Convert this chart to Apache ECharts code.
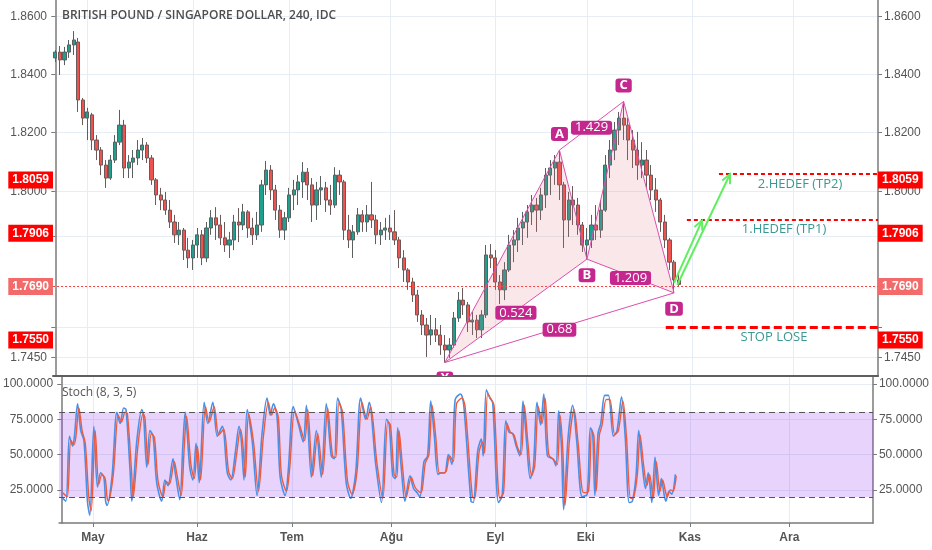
<!DOCTYPE html>
<html><head><meta charset="utf-8">
<script src="https://cdn.jsdelivr.net/npm/echarts@6/dist/echarts.min.js"></script>
<style>html,body{margin:0;padding:0;background:#fff}#c{width:932px;height:550px}</style>
</head><body><div id="c"></div>
<script>
// ---------- data ----------
const chartTitle = 'BRITISH POUND / SINGAPORE DOLLAR, 240, IDC';
const stochTitle = 'Stoch (8, 3, 5)';
const firstBarDate = '2018-04-20';           // bar index 0 (weekday bars)
const barCount = 180;                         // visible weekday slots
const monthLabels = ['May', 'Haz', 'Tem', 'Ağu', 'Eyl', 'Eki', 'Kas', 'Ara'];
const monthStartIndex = [7, 30, 51, 73, 96, 116, 139, 161];

const open = [1.8457,1.8477,1.8450,1.8477,1.8502,1.8512,1.8312,1.8250,1.8261,1.8175,1.8141,1.8090,1.8046,1.8107,1.8168,1.8226,1.8080,1.8100,1.8114,1.8141,1.8158,1.8114,1.8040,1.7989,1.7972,1.7938,1.7898,1.7855,1.7871,1.7804,1.7778,1.7821,1.7855,1.7778,1.7878,1.7912,1.7888,1.7845,1.7821,1.7838,1.7898,1.7888,1.7932,1.7878,1.7855,1.7888,1.8023,1.8073,1.8006,1.7938,1.7871,1.7912,1.7989,1.8006,1.8033,1.8066,1.8023,1.7955,1.8006,1.8013,1.7972,1.7955,1.8056,1.8033,1.7871,1.7838,1.7865,1.7922,1.7898,1.7922,1.7905,1.7855,1.7871,1.7878,1.7865,1.7838,1.7778,1.7738,1.7698,1.7655,1.7589,1.7556,1.7523,1.7540,1.7523,1.7490,1.7474,1.7490,1.7579,1.7638,1.7622,1.7566,1.7572,1.7540,1.7589,1.7788,1.7778,1.7698,1.7672,1.7738,1.7821,1.7838,1.7878,1.7898,1.7932,1.7955,1.7938,1.7989,1.8056,1.8080,1.8100,1.8023,1.7905,1.7972,1.7955,1.7888,1.7821,1.7838,1.7888,1.7871,1.7938,1.8090,1.8141,1.8209,1.8250,1.8226,1.8175,1.8141,1.8090,1.8107,1.8056,1.8006,1.7972,1.7898,1.7838,1.7764,1.7705];
const high = [1.8484,1.8498,1.8495,1.8519,1.8550,1.8526,1.8319,1.8285,1.8268,1.8192,1.8151,1.8107,1.8124,1.8192,1.8278,1.8244,1.8124,1.8141,1.8175,1.8182,1.8168,1.8124,1.8046,1.8013,1.7999,1.7972,1.7922,1.7898,1.7878,1.7845,1.7838,1.7878,1.7871,1.7898,1.7938,1.7948,1.7922,1.7898,1.7865,1.7922,1.7945,1.7959,1.7938,1.7912,1.7932,1.8040,1.8104,1.8090,1.8023,1.7955,1.7932,1.8013,1.8040,1.8056,1.8100,1.8080,1.8046,1.8033,1.8053,1.8033,1.8023,1.8083,1.8073,1.8040,1.7922,1.7888,1.7945,1.7938,1.7955,1.8033,1.7922,1.7898,1.7912,1.7922,1.7938,1.7848,1.7804,1.7744,1.7712,1.7672,1.7605,1.7579,1.7589,1.7579,1.7556,1.7523,1.7513,1.7599,1.7665,1.7678,1.7632,1.7599,1.7589,1.7605,1.7821,1.7824,1.7804,1.7721,1.7764,1.7855,1.7871,1.7912,1.7932,1.7955,1.7989,1.7979,1.8013,1.8080,1.8107,1.8124,1.8141,1.8033,1.7999,1.8019,1.7979,1.7898,1.7878,1.7922,1.7955,1.7972,1.8124,1.8175,1.8237,1.8271,1.8307,1.8250,1.8209,1.8203,1.8168,1.8141,1.8090,1.8046,1.7979,1.7922,1.7845,1.7771,1.7728];
const low = [1.8443,1.8398,1.8432,1.8457,1.8467,1.8271,1.8226,1.8175,1.8141,1.8107,1.8056,1.8013,1.8040,1.8097,1.8158,1.8046,1.8046,1.8046,1.8090,1.8107,1.8097,1.8023,1.7955,1.7938,1.7922,1.7878,1.7828,1.7821,1.7771,1.7744,1.7738,1.7778,1.7754,1.7764,1.7855,1.7838,1.7821,1.7798,1.7778,1.7804,1.7831,1.7871,1.7845,1.7821,1.7838,1.7865,1.7989,1.7972,1.7905,1.7845,1.7838,1.7898,1.7938,1.7955,1.7979,1.7972,1.7898,1.7905,1.7955,1.7932,1.7922,1.7945,1.7989,1.7838,1.7811,1.7778,1.7855,1.7865,1.7865,1.7878,1.7824,1.7821,1.7838,1.7838,1.7821,1.7744,1.7698,1.7672,1.7632,1.7566,1.7523,1.7451,1.7490,1.7500,1.7458,1.7433,1.7448,1.7481,1.7566,1.7589,1.7533,1.7523,1.7513,1.7513,1.7579,1.7744,1.7672,1.7625,1.7638,1.7731,1.7764,1.7798,1.7821,1.7845,1.7888,1.7865,1.7905,1.7945,1.7989,1.8023,1.7972,1.7811,1.7848,1.7888,1.7855,1.7798,1.7774,1.7811,1.7838,1.7845,1.7932,1.8046,1.8107,1.8158,1.8175,1.8107,1.8080,1.8040,1.8046,1.8013,1.7972,1.7932,1.7865,1.7811,1.7738,1.7662,1.7682];
const close = [1.8477,1.8450,1.8477,1.8502,1.8519,1.8312,1.8250,1.8271,1.8175,1.8141,1.8090,1.8046,1.8107,1.8168,1.8226,1.8080,1.8100,1.8114,1.8141,1.8158,1.8114,1.8040,1.7989,1.7972,1.7938,1.7898,1.7855,1.7871,1.7804,1.7778,1.7821,1.7855,1.7778,1.7878,1.7912,1.7888,1.7845,1.7821,1.7838,1.7898,1.7888,1.7932,1.7878,1.7855,1.7888,1.8023,1.8073,1.8006,1.7938,1.7871,1.7912,1.7989,1.8006,1.8033,1.8066,1.8023,1.7955,1.8006,1.8013,1.7972,1.7955,1.8056,1.8033,1.7871,1.7838,1.7865,1.7922,1.7898,1.7922,1.7905,1.7855,1.7871,1.7878,1.7865,1.7838,1.7778,1.7738,1.7698,1.7655,1.7589,1.7556,1.7523,1.7540,1.7523,1.7490,1.7474,1.7490,1.7579,1.7638,1.7622,1.7566,1.7572,1.7540,1.7589,1.7788,1.7778,1.7698,1.7672,1.7738,1.7821,1.7838,1.7878,1.7898,1.7932,1.7955,1.7938,1.7989,1.8056,1.8080,1.8100,1.8023,1.7905,1.7972,1.7955,1.7888,1.7821,1.7838,1.7888,1.7871,1.7938,1.8090,1.8141,1.8209,1.8250,1.8226,1.8175,1.8141,1.8090,1.8107,1.8056,1.8006,1.7972,1.7898,1.7838,1.7764,1.7705,1.7690];

const priceTicks = [1.86, 1.84, 1.82, 1.80, 1.785, 1.755, 1.745];
const priceTickLabels = [1.86, 1.84, 1.82, 1.80, 1.785, 1.745];
const priceRange = [1.7389, 1.86583];

const levelNames = ['TP2', 'TP1', 'LAST', 'STOP'];
const levelPrices = [1.8059, 1.7906, 1.7690, 1.7550];
const levelStartIndex = [144.8, 137.8, -0.5, 133.2];
const levelTexts = ['2.HEDEF (TP2)', '1.HEDEF (TP1)', '', 'STOP LOSE'];
const levelTextIndex = [162.5, 159.0, 0, 156.8];

const patternNames = ['X', 'A', 'B', 'C', 'D'];
const patternIndex = [85, 110, 116, 124, 135];
const patternPrice = [1.7433, 1.8141, 1.7774, 1.8307, 1.7662];
const ratioLabels = ['0.524', '1.429', '1.209', '0.68'];
const ratioLegs = [[0, 2], [1, 3], [2, 4], [0, 4]];

const arrowFrom = [[135.0, 1.7695], [135.7, 1.7688]];
const arrowTo = [[141.1, 1.7903], [147.2, 1.8059]];

const stochTicks = [25, 50, 75, 100];
const stochBand = [20, 80];
const stochRange = [1.5, 105];
const stochK = [[0,20],[1,17],[1.8,63],[2.5,56],[2.9,63],[3.6,86],[4.3,67],[5.0,60],[5.8,16],[6.3,7],[7.2,70],[8.0,27],[8.7,37],[9.4,34],[9.8,17],[10.1,14],[11.2,34],[12.3,80],[13.0,72],[13.8,83],[14.3,82],[15.2,39],[15.6,17],[16.7,60],[17.8,82],[18.2,77],[18.9,41],[19.6,67],[20.3,63],[21.1,30],[22.2,17],[22.9,32],[23.6,28],[24.7,47],[25.2,37],[26.2,18],[26.9,58],[27.4,80],[28.4,41],[29.1,32],[29.8,58],[30.5,30],[31.6,87],[32.4,72],[33.5,87],[34.5,63],[35.6,70],[36.7,37],[37.5,32],[38.5,52],[39.3,70],[39.8,60],[40.4,32],[41.1,82],[42.2,60],[43.3,21],[44.4,65],[45.5,90],[46.2,78],[46.9,86],[47.7,77],[48.4,34],[49.5,21],[50.2,39],[51.3,84],[52.4,72],[53.5,59],[54.2,85],[55.3,34],[56.4,67],[57.5,34],[58.6,86],[59.7,49],[60.4,47],[61.1,90],[61.9,82],[63.0,30],[64.0,19],[65.1,37],[66.2,90],[67.3,75],[68.1,87],[69.5,44],[70.8,16],[71.9,75],[72.5,72],[73.3,35],[73.9,33],[74.4,69],[75.2,40],[76.0,17],[77.1,35],[77.9,26],[78.7,23],[79.3,20],[80.2,45],[81.0,49],[81.7,88],[82.5,63],[83.3,36],[84.0,37],[84.8,37],[85.6,50],[86.4,43],[87.1,89],[88.3,93],[89.0,85],[90.6,17],[91.1,16],[92.1,53],[92.9,61],[93.3,49],[94.0,96],[94.8,90],[95.4,87],[96.7,16],[97.5,21],[98.3,74],[99.0,66],[99.8,65],[100.6,56],[101.4,49],[102.1,88],[102.9,59],[103.7,33],[104.4,41],[105.2,87],[106.0,71],[106.7,93],[107.5,49],[108.7,47],[109.4,42],[110.0,81],[110.6,56],[111.1,11],[112.1,63],[113.1,85],[114.0,59],[115.2,20],[116.3,22],[117.0,69],[117.5,66],[118.0,21],[118.7,65],[119.3,72],[120.2,92],[121.0,92],[122.1,63],[122.9,67],[123.9,91],[124.7,63],[125.6,16],[126.3,17],[127.1,35],[127.7,67],[128.5,42],[129.2,26],[129.8,37],[130.6,16],[131.3,48],[132.1,21],[132.7,33],[133.3,22],[133.7,17],[134.4,24],[135.0,22],[135.8,36]];
const stochD = [[0.3,23],[1.3,20],[2.1,60],[2.8,57],[3.2,62],[3.9,83],[4.6,67],[5.3,58],[6.1,19],[6.6,10],[7.5,67],[8.3,29],[9.0,36],[9.7,33],[10.1,20],[10.4,17],[11.5,36],[12.6,78],[13.3,73],[14.1,80],[14.6,79],[15.5,40],[15.9,20],[17.0,58],[18.1,79],[18.5,76],[19.2,43],[19.9,65],[20.6,62],[21.4,31],[22.5,20],[23.2,31],[23.9,29],[25.0,45],[25.5,37],[26.5,21],[27.2,56],[27.7,77],[28.7,42],[29.4,33],[30.1,56],[30.8,32],[31.9,84],[32.7,73],[33.8,84],[34.8,64],[35.9,68],[37.0,38],[37.8,33],[38.8,51],[39.6,68],[40.1,59],[40.7,34],[41.4,79],[42.5,59],[43.6,24],[44.7,63],[45.8,87],[46.5,78],[47.2,83],[48.0,76],[48.7,35],[49.8,24],[50.5,40],[51.6,81],[52.7,71],[53.8,60],[54.5,82],[55.6,35],[56.7,65],[57.8,36],[58.9,83],[60.0,49],[60.7,48],[61.4,87],[62.2,80],[63.3,31],[64.3,22],[65.4,38],[66.5,87],[67.6,75],[68.4,84],[69.8,44],[71.1,19],[72.2,73],[72.8,71],[73.6,36],[74.2,34],[74.7,67],[75.5,40],[76.3,20],[77.4,34],[78.2,27],[79.0,24],[79.6,23],[80.5,44],[81.3,50],[82.0,85],[82.8,63],[83.6,37],[84.3,37],[85.1,38],[85.9,49],[86.7,45],[87.4,86],[88.6,90],[89.3,84],[90.9,20],[91.4,19],[92.4,52],[93.2,59],[93.6,51],[94.3,93],[95.1,89],[95.7,85],[97.0,19],[97.8,23],[98.6,72],[99.3,66],[100.1,64],[100.9,55],[101.7,50],[102.4,85],[103.2,58],[104.0,35],[104.7,42],[105.5,84],[106.3,72],[107.0,90],[107.8,50],[109.0,46],[109.7,43],[110.3,78],[110.9,54],[111.4,14],[112.4,61],[113.4,82],[114.3,58],[115.5,23],[116.6,24],[117.3,67],[117.8,63],[118.3,24],[119.0,64],[119.6,71],[120.5,89],[121.3,89],[122.4,64],[123.2,67],[124.2,88],[125.0,62],[125.9,19],[126.6,20],[127.4,36],[128.0,64],[128.8,42],[129.5,28],[130.1,36],[130.9,19],[131.6,45],[132.4,24],[133.0,32],[133.6,24],[134.0,20],[134.7,25],[135.3,24],[136.0,35]];

// ---------- chart ----------
const L = Math.log;   // price axis is logarithmic (as in the source chart)
const fmtPrice = v => Math.exp(v).toFixed(4);
const axisFont = 'Liberation Sans';
const textGrey = '#555555';
const gridColor = '#e6edf4';
const axisLineColor = '#7a7a7a';
const red = '#ff0000';
const lastRed = '#f26a6a';
const magenta = '#c4288f';
const patternLine = '#dc4fae';
const teal = '#3a9893';

const xMin = -0.5, xMax = barCount - 0.5;

const candleData = open.map((o, i) => [i, L(o), L(close[i]), L(low[i]), L(high[i])]);

function priceYAxis(pos, showSplit) {
  return {
    type: 'value', gridIndex: 0, position: pos,
    min: L(priceRange[0]), max: L(priceRange[1]),
    axisLine: { show: true, lineStyle: { color: axisLineColor, width: 1.5 } },
    axisTick: { show: true, length: 4, inside: false, customValues: priceTicks.map(L), lineStyle: { color: axisLineColor } },
    axisLabel: { customValues: priceTickLabels.map(L), formatter: fmtPrice, color: textGrey, fontSize: 12, fontFamily: axisFont, margin: 6 },
    splitLine: { show: showSplit, lineStyle: { color: gridColor, width: 1 } }
  };
}
function stochYAxis(pos, showSplit) {
  return {
    type: 'value', gridIndex: 1, position: pos,
    min: stochRange[0], max: stochRange[1],
    axisLine: { show: true, lineStyle: { color: axisLineColor, width: 1.5 } },
    axisTick: { show: true, length: 4, customValues: stochTicks, lineStyle: { color: axisLineColor } },
    axisLabel: { customValues: stochTicks, formatter: v => v.toFixed(4), color: textGrey, fontSize: 12, fontFamily: axisFont, margin: 6 },
    splitLine: { show: showSplit, lineStyle: { color: gridColor, width: 1 } }
  };
}

function levelBox(price, side, color) {
  return {
    yAxis: L(price),
    lineStyle: { width: 1, color: 'rgba(0,0,0,0)' },
    label: {
      show: true, position: side, distance: 0,
      formatter: price.toFixed(4),
      backgroundColor: color, color: '#ffffff', fontWeight: 'bold', fontSize: 12, fontFamily: axisFont,
      padding: [3, 4, 2, 4]
    }
  };
}

const levelColors = [red, red, lastRed, red];
const markLineData = [];
markLineData.push({ yAxis: L(levelPrices[2]), lineStyle: { color: '#ff4040', width: 1, type: [2, 2] }, label: { show: false } });
markLineData.push([{ coord: [levelStartIndex[0], L(levelPrices[0])], lineStyle: { color: red, width: 2, type: [4, 3] }, label: { show: false } }, { coord: [xMax, L(levelPrices[0])] }]);
markLineData.push([{ coord: [levelStartIndex[1], L(levelPrices[1])], lineStyle: { color: red, width: 2, type: [4, 3] }, label: { show: false } }, { coord: [xMax, L(levelPrices[1])] }]);
markLineData.push([{ coord: [levelStartIndex[3], L(levelPrices[3])], lineStyle: { color: red, width: 3, type: [8, 4] }, label: { show: false } }, { coord: [xMax, L(levelPrices[3])] }]);
levelPrices.forEach((p, i) => {
  markLineData.push(levelBox(p, 'start', levelColors[i]));
  markLineData.push(levelBox(p, 'end', levelColors[i]));
});

function boxText(x, y, text, bold) {
  return {
    type: 'text', x: x, y: y, z2: 30,
    style: {
      text: text, fill: '#fff', align: 'center', verticalAlign: 'middle',
      font: (bold ? 'bold ' : '') + '13px "Open Sans"',
      backgroundColor: magenta, padding: [1, 4, 0, 4], borderRadius: 3
    }
  };
}

function renderPattern(params, api) {
  if (params.dataIndex !== 0) return null;
  const P = patternIndex.map((x, i) => api.coord([x, L(patternPrice[i])]));
  const ch = [];
  ch.push({ type: 'polygon', shape: { points: [P[0], P[1], P[2]] }, style: { fill: 'rgba(228,110,130,0.17)' } });
  ch.push({ type: 'polygon', shape: { points: [P[2], P[3], P[4]] }, style: { fill: 'rgba(228,110,130,0.17)' } });
  ch.push({ type: 'polyline', shape: { points: P }, style: { stroke: patternLine, lineWidth: 1, fill: null } });
  ratioLegs.forEach(leg => {
    ch.push({ type: 'line', shape: { x1: P[leg[0]][0], y1: P[leg[0]][1], x2: P[leg[1]][0], y2: P[leg[1]][1] }, style: { stroke: patternLine, lineWidth: 1 } });
  });
  ratioLegs.forEach((leg, k) => {
    const mx = (P[leg[0]][0] + P[leg[1]][0]) / 2, my = (P[leg[0]][1] + P[leg[1]][1]) / 2;
    ch.push(boxText(mx, my + 2, ratioLabels[k], false));
  });
  const above = [false, true, false, true, false];
  P.forEach((p, i) => {
    ch.push(boxText(p[0], p[1] + (above[i] ? -16 : 16), patternNames[i], true));
  });
  return { type: 'group', children: ch };
}

function renderAnnotations(params, api) {
  if (params.dataIndex !== 0) return null;
  const ch = [];
  const green = '#62ee62';
  arrowFrom.forEach((f, i) => {
    const a = api.coord([f[0], L(f[1])]);
    const b = api.coord([arrowTo[i][0], L(arrowTo[i][1])]);
    ch.push({ type: 'line', shape: { x1: a[0], y1: a[1], x2: b[0], y2: b[1] }, style: { stroke: green, lineWidth: 2 } });
    const ang = Math.atan2(b[1] - a[1], b[0] - a[0]);
    const len = 10, spread = 0.45;
    ch.push({ type: 'polyline', shape: { points: [
      [b[0] - len * Math.cos(ang - spread), b[1] - len * Math.sin(ang - spread)], b,
      [b[0] - len * Math.cos(ang + spread), b[1] - len * Math.sin(ang + spread)]] },
      style: { stroke: green, lineWidth: 2, fill: null } });
  });
  levelTexts.forEach((t, i) => {
    if (!t) return;
    const p = api.coord([levelTextIndex[i], L(levelPrices[i])]);
    ch.push({ type: 'text', x: p[0], y: p[1] + 10, style: { text: t, fill: teal, align: 'center', verticalAlign: 'middle', font: '13px "Open Sans"' } });
  });
  return { type: 'group', children: ch };
}

const chart = echarts.init(document.getElementById('c'), null, { renderer: 'canvas' });
chart.setOption({
  animation: false,
  backgroundColor: '#ffffff',
  title: [
    { text: chartTitle, left: 62, top: 10, padding: 0, textStyle: { fontFamily: 'Open Sans', fontWeight: 600, fontSize: 12, color: '#4d4d4d' } },
    { text: stochTitle, left: 62, top: 387, padding: 0, textStyle: { fontFamily: 'Open Sans', fontWeight: 'normal', fontSize: 12, color: '#555' } }
  ],
  grid: [
    { left: 53, right: 54, top: 0, height: 376 },
    { left: 53, right: 54, top: 377, height: 146 }
  ],
  xAxis: [
    { type: 'value', gridIndex: 0, min: xMin, max: xMax,
      axisLine: { show: true, lineStyle: { color: '#5e5e5e', width: 2 } },
      axisTick: { show: false, customValues: monthStartIndex }, axisLabel: { show: false, customValues: monthStartIndex },
      splitLine: { show: true, lineStyle: { color: gridColor, width: 1 } } },
    { type: 'value', gridIndex: 1, min: xMin, max: xMax,
      axisLine: { show: true, lineStyle: { color: axisLineColor, width: 1.5 } },
      axisTick: { show: true, length: 4, customValues: monthStartIndex, lineStyle: { color: axisLineColor } },
      axisLabel: { customValues: monthStartIndex, formatter: v => monthLabels[monthStartIndex.indexOf(Math.round(v))] || '',
        color: textGrey, fontSize: 12, fontFamily: axisFont, fontWeight: 'bold', margin: 9 },
      splitLine: { show: true, lineStyle: { color: gridColor, width: 1 } } }
  ],
  yAxis: [priceYAxis('left', true), priceYAxis('right', false), stochYAxis('left', true), stochYAxis('right', false)],
  series: [
    {
      type: 'candlestick', name: 'GBPSGD', xAxisIndex: 0, yAxisIndex: 0,
      data: candleData, encode: { x: 0, y: [1, 2, 3, 4] }, barWidth: 3.6,
      itemStyle: { color: '#1fa08f', color0: '#ef5350', borderColor: '#5a5f5f', borderColor0: '#6a5a5a', borderWidth: 1 },
      markLine: { silent: true, symbol: 'none', animation: false, data: markLineData }
    },
    { type: 'custom', name: 'pattern', xAxisIndex: 0, yAxisIndex: 0, clip: true, z: 5,
      data: patternIndex.map((x, i) => [x, L(patternPrice[i])]), renderItem: renderPattern },
    { type: 'custom', name: 'annotations', xAxisIndex: 0, yAxisIndex: 0, clip: false, z: 6,
      data: [[arrowFrom[0][0], L(arrowFrom[0][1])]], renderItem: renderAnnotations },
    {
      type: 'line', name: '%K', xAxisIndex: 1, yAxisIndex: 2, data: stochK, symbol: 'none', smooth: 0.3,
      lineStyle: { color: '#4a90e8', width: 1.6 },
      markArea: { silent: true, itemStyle: { color: 'rgba(140,35,240,0.2)' }, data: [[{ yAxis: stochBand[0] }, { yAxis: stochBand[1] }]] },
      markLine: { silent: true, symbol: 'none', label: { show: false },
        lineStyle: { color: '#555', type: [6, 4], width: 1 },
        data: [{ yAxis: stochBand[1] }, { yAxis: stochBand[0] }] }
    },
    { type: 'line', name: '%D', xAxisIndex: 1, yAxisIndex: 2, data: stochD, symbol: 'none', smooth: 0.3,
      lineStyle: { color: '#ef5a3c', width: 1.4 } }
  ]
});
</script>
</body></html>
